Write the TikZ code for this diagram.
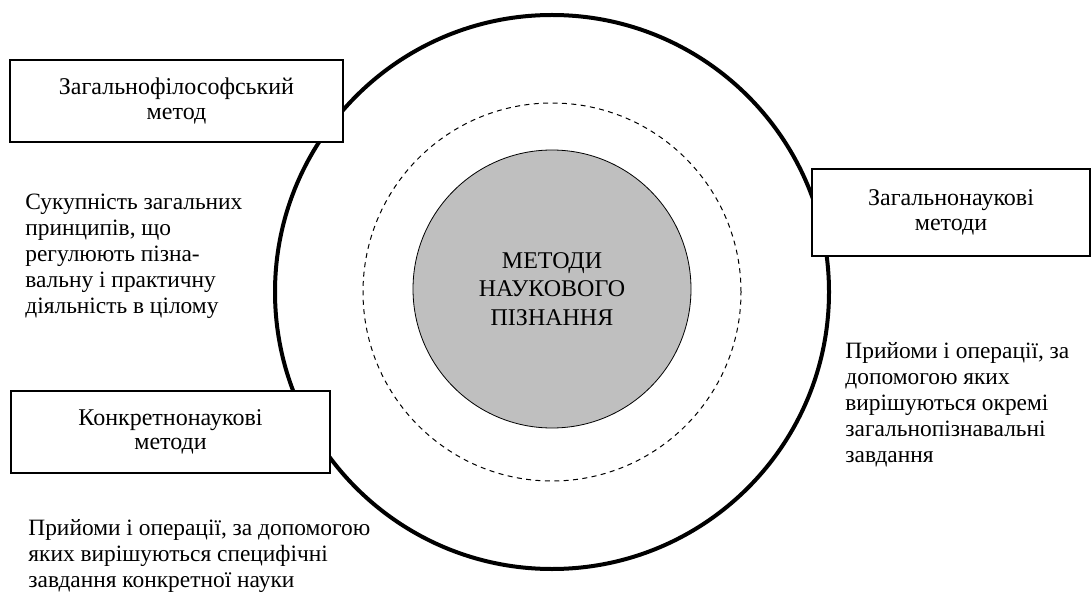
\documentclass[tikz,border=0pt]{standalone}
\usepackage{fontspec}
\setmainfont{Liberation Serif}

\begin{document}
\begin{tikzpicture}[x=0.5pt,y=-0.5pt,
    method/.style={draw,fill=white,line width=0.6pt,align=center,inner sep=0pt,
      font=\fontsize{12}{12.2}\selectfont},
    note/.style={anchor=north west,align=left,inner sep=0pt,
      font=\fontsize{11.7}{13}\selectfont}]
  \useasboundingbox (0,0) rectangle (1092,593);
  % circles
  \draw[line width=2pt] (552,292) circle (138.5pt);
  \draw[line width=0.5pt,dash pattern=on 2.5pt off 2.2pt] (552,292) circle (94.5pt);
  \node[circle,draw,line width=0.4pt,fill=gray!50,minimum size=139pt,inner sep=0pt,
    align=center,font=\fontsize{12}{14.3}\selectfont] (core) at (552,289)
    {МЕТОДИ\\НАУКОВОГО\\ПІЗНАННЯ};
  % boxes
  \node[method,minimum width=166.5pt,minimum height=41pt] (philo) at (176.5,101)
    {Загальнофілософський\\метод};
  \node[method,minimum width=139pt,minimum height=43.5pt] (general) at (951,212.5)
    {Загальнонаукові\\методи};
  \node[method,minimum width=159.5pt,minimum height=41pt] (concrete) at (170.5,432)
    {Конкретнонаукові\\методи};
  % descriptions
  \node[note] (philotext) at (25,194)
    {Сукупність загальних\\принципів, що\\регулюють пізна-\\вальну і практичну\\діяльність в цілому};
  \node[note] (generaltext) at (845,342)
    {Прийоми і операції, за\\допомогою яких\\вирішуються окремі\\загальнопізнавальні\\завдання};
  \node[note] (concretetext) at (28,519)
    {Прийоми і операції, за допомогою\\яких вирішуються специфічні\\завдання конкретної науки};
\end{tikzpicture}
\end{document}
